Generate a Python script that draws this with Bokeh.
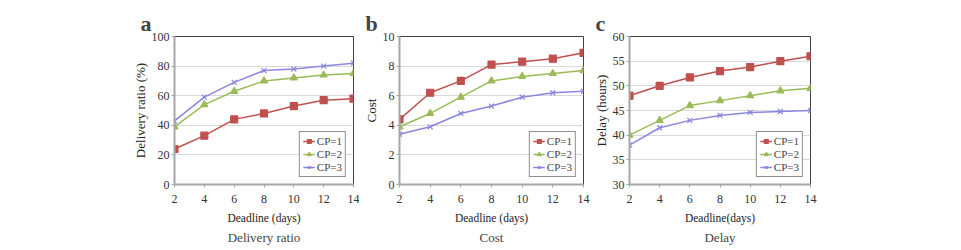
from bokeh.plotting import figure
from bokeh.layouts import row
from bokeh.models import Spacer, Title, Legend, LegendItem, FixedTicker
from bokeh.embed import file_html
from bokeh.resources import INLINE

deadline = [2, 4, 6, 8, 10, 12, 14]
series_names = ["CP=1", "CP=2", "CP=3"]

ratio_cp1 = [24, 33, 44, 48, 53, 57, 58]
ratio_cp2 = [39, 54, 63, 70, 72, 74, 75]
ratio_cp3 = [43, 59, 69, 77, 78, 80, 82]

cost_cp1 = [4.4, 6.2, 7.0, 8.1, 8.3, 8.5, 8.9]
cost_cp2 = [3.9, 4.8, 5.9, 7.0, 7.3, 7.5, 7.7]
cost_cp3 = [3.4, 3.9, 4.8, 5.3, 5.9, 6.2, 6.3]

delay_cp1 = [48, 50, 51.7, 53, 53.8, 55, 56]
delay_cp2 = [40, 43, 46, 47, 48, 49, 49.5]
delay_cp3 = [38, 41.5, 43, 44, 44.6, 44.8, 45]

COLORS = ["#c0504d", "#9bbb59", "#8a86e0"]
MARKERS = ["square", "triangle", "x"]
FONT = "Liberation Serif"


def panel(letter, subtitle, xlabel, ylabel, series, yr, yticks,
          left, frame_w, right):
    p = figure(width=left + frame_w + right, height=250,
               x_range=(2, 14), y_range=yr,
               output_backend="svg", toolbar_location=None,
               min_border_left=left, min_border_right=right,
               min_border_top=36, min_border_bottom=66)
    p.background_fill_color = "white"
    p.outline_line_color = "#404040"
    p.outline_line_width = 1

    p.title.text = letter
    p.title.text_font = FONT
    p.title.text_font_size = "22px"
    p.title.text_font_style = "bold"
    p.title.align = "left"
    p.title.offset = -34
    p.title.standoff = 2

    p.xaxis.ticker = FixedTicker(ticks=deadline)
    p.yaxis.ticker = FixedTicker(ticks=yticks)
    p.xaxis.axis_label = xlabel
    p.yaxis.axis_label = ylabel
    for ax in (p.xaxis, p.yaxis):
        ax.axis_label_text_font = FONT
        ax.axis_label_text_font_style = "normal"
        ax.major_label_text_font = FONT
        ax.major_label_text_font_size = "12px"
        ax.major_label_text_color = "#333333"
        ax.axis_label_text_color = "#222222"
        ax.axis_line_color = "#a6a6a6"
        ax.axis_line_width = 2
        ax.major_tick_line_color = "#a6a6a6"
        ax.major_tick_in = 0
        ax.major_tick_out = 3
        ax.minor_tick_line_color = None
    p.yaxis.major_label_standoff = 2
    p.xaxis.major_label_standoff = 7
    p.xaxis.axis_label_text_font_size = "11.5px"
    p.yaxis.axis_label_text_font_size = "13px"
    p.xaxis.axis_label_standoff = 6
    p.yaxis.axis_label_standoff = 1

    p.xgrid.grid_line_color = None
    p.ygrid.grid_line_color = "#d9d9d9"

    items = []
    for name, ys, col, mk in zip(series_names, series, COLORS, MARKERS):
        ln = p.line(deadline, ys, line_color=col, line_width=1.5)
        sc = p.scatter(deadline, ys, marker=mk, size=7,
                       fill_color=col, line_color=col, line_width=1.2)
        items.append(LegendItem(label=name, renderers=[ln, sc]))

    leg = Legend(items=items, location="bottom_right")
    leg.label_text_font = FONT
    leg.label_text_font_size = "11px"
    leg.border_line_color = "#202020"
    leg.border_line_width = 1
    leg.glyph_width = 12
    leg.glyph_height = 10
    leg.label_height = 11
    leg.spacing = 1
    leg.padding = 3
    leg.margin = 7
    leg.label_standoff = 2
    p.add_layout(leg)

    sub = Title(text=subtitle, align="center", text_font=FONT,
                text_font_size="13px", text_font_style="normal", standoff=2)
    p.add_layout(sub, "below")
    return p


pa = panel("a", "Delivery ratio", "Deadline (days)", "Delivery ratio (%)",
           [ratio_cp1, ratio_cp2, ratio_cp3], (0, 100),
           [0, 20, 40, 60, 80, 100], 46, 179, 6)
pb = panel("b", "Cost", "Deadline (days)", "Cost",
           [cost_cp1, cost_cp2, cost_cp3], (0, 10),
           [0, 2, 4, 6, 8, 10], 40, 184, 7)
pc = panel("c", "Delay", "Deadline(days)", "Delay (hours)",
           [delay_cp1, delay_cp2, delay_cp3], (30, 60),
           [30, 35, 40, 45, 50, 55, 60], 36, 184, 20)

lead = 128
layout = row(Spacer(width=lead, height=250), pa, pb, pc,
             Spacer(width=961 - lead - pa.width - pb.width - pc.width, height=250))

open("out.html", "w").write(file_html(layout, INLINE))
